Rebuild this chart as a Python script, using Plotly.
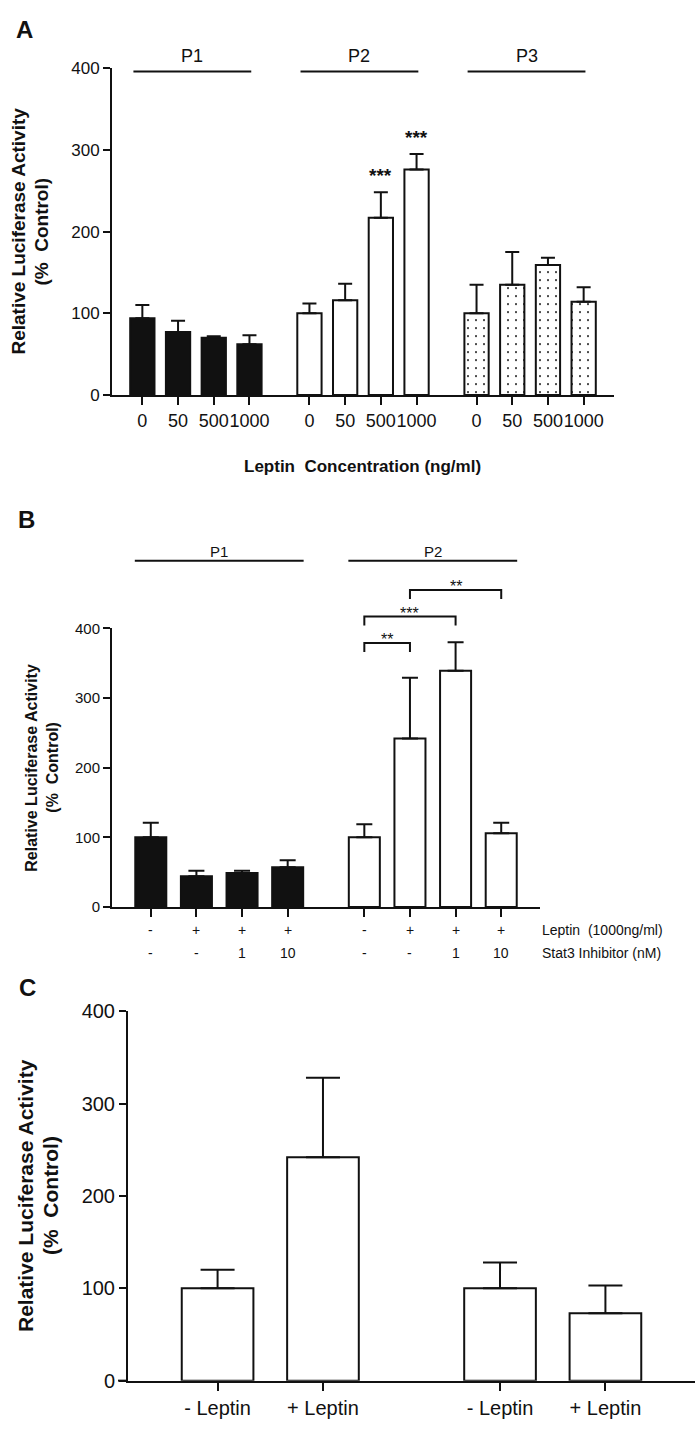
import plotly.graph_objects as go

W, H = 700, 1433
FONT = "Liberation Sans, Arial, sans-serif"
BLACK = "#111111"

# ---------------- data ----------------
# Panel A
A_conc_labels = ["0", "50", "500", "1000"]
A_P1_mean = [94, 77, 70, 62]
A_P1_err = [16, 14, 2, 11]
A_P2_mean = [100, 116, 217, 276]
A_P2_err = [12, 20, 31, 19]
A_P2_sig = ["", "", "***", "***"]
A_P3_mean = [100, 135, 159, 114]
A_P3_err = [35, 40, 9, 18]
A_group_labels = ["P1", "P2", "P3"]

# Panel B
B_P1_mean = [100, 44, 49, 57]
B_P1_err = [21, 8, 3, 10]
B_P2_mean = [100, 242, 339, 106]
B_P2_err = [19, 87, 41, 15]
B_group_labels = ["P1", "P2"]
B_leptin_row = ["-", "+", "+", "+"]
B_inhib_row = ["-", "-", "1", "10"]
B_bracket_from = [0, 0, 1]
B_bracket_to = [1, 2, 3]
B_bracket_level = [379, 417, 455]
B_bracket_text = ["**", "***", "**"]

# Panel C
C_labels = ["- Leptin", "+ Leptin", "- Leptin", "+ Leptin"]
C_mean = [100, 242, 100, 73]
C_err = [20, 86, 28, 30]

Y_TICKS = [0, 100, 200, 300, 400]
Y_MAX = 400

# ---------------- layout helpers ----------------
GAP = 0.68      # extra gap between groups (in bar slots)
PAD = 0.85      # padding at axis ends (in bar slots)
BAR_W = 0.68


def group_positions(n_groups, n_per):
    out = []
    for g in range(n_groups):
        start = g * (n_per + GAP)
        out.append([start + i for i in range(n_per)])
    return out


def px_x(p):
    return p / W


def px_y(p):
    return 1 - p / H


fig = go.Figure()
shapes = []
annotations = []


def txt(text, x, y, size, xref="paper", yref="paper", bold=False, angle=0,
        xanchor="center", yanchor="middle", xshift=0, yshift=0):
    return dict(x=x, y=y, xref=xref, yref=yref,
                text=("<b>%s</b>" % text) if bold else text,
                textangle=angle, showarrow=False, xanchor=xanchor,
                yanchor=yanchor, xshift=xshift, yshift=yshift,
                font=dict(size=size, color=BLACK, family=FONT))


def bar_trace(x, y, err, xa, ya, fill, cap, pattern=None):
    marker = dict(color=fill, line=dict(color=BLACK, width=2))
    if pattern:
        marker["pattern"] = pattern
    return go.Bar(
        x=x, y=y, xaxis=xa, yaxis=ya, width=BAR_W,
        marker=marker,
        error_y=dict(type="data", array=err, arrayminus=[0] * len(err),
                     symmetric=False, color=BLACK, thickness=2, width=cap),
        showlegend=False, hoverinfo="skip",
    )


def axis_pair(xname, yname, xdom_px, ydom_px, xr, ytickfont, xtickfont,
              tickvals, ticktext, showxlabels=True):
    xd = [px_x(xdom_px[0]), px_x(xdom_px[1])]
    yd = [px_y(ydom_px[0]), px_y(ydom_px[1])]
    xa = dict(domain=xd, range=xr, anchor=yname.replace("axis", ""),
              showline=True, linecolor=BLACK, linewidth=2, ticks="outside",
              ticklen=8, tickwidth=2, tickcolor=BLACK, tickvals=tickvals,
              ticktext=ticktext, showticklabels=showxlabels, tickangle=0,
              tickfont=dict(size=xtickfont, color=BLACK, family=FONT),
              showgrid=False, zeroline=False, fixedrange=True)
    ya = dict(domain=yd, range=[0, Y_MAX], anchor=xname.replace("axis", ""),
              showline=True, linecolor=BLACK, linewidth=2, ticks="outside",
              ticklen=7, tickwidth=2, tickcolor=BLACK, tickvals=Y_TICKS,
              tickfont=dict(size=ytickfont, color=BLACK, family=FONT),
              showgrid=False, zeroline=False, fixedrange=True)
    return xa, ya, yd


def yfrac(v):
    return v / Y_MAX


def ypaper(yd, v):
    return yd[0] + yfrac(v) * (yd[1] - yd[0])


# ======================= Panel A =======================
posA = group_positions(3, 4)
flatA = [p for g in posA for p in g]
xrA = [flatA[0] - PAD, flatA[-1] + PAD]
xaA, yaA, ydA = axis_pair("xaxis", "yaxis", (112, 614), (390, 58), xrA, 17, 18,
                          flatA, A_conc_labels * 3)
fig.add_trace(bar_trace(posA[0], A_P1_mean, A_P1_err, "x", "y", BLACK, 7))
fig.add_trace(bar_trace(posA[1], A_P2_mean, A_P2_err, "x", "y", "white", 7))
fig.add_trace(bar_trace(posA[2], A_P3_mean, A_P3_err, "x", "y", "white", 7,
                        pattern=dict(shape=".", fgcolor=BLACK, bgcolor="white",
                                     size=8, solidity=0.05, fillmode="replace")))

for g, lab in enumerate(A_group_labels):
    c = (posA[g][0] + posA[g][-1]) / 2 - 0.1
    shapes.append(dict(type="line", xref="x", yref="paper",
                       x0=c - 1.65, x1=c + 1.65,
                       y0=ypaper(ydA, 396), y1=ypaper(ydA, 396),
                       line=dict(color=BLACK, width=2)))
    annotations.append(txt(lab, c, ypaper(ydA, 415), 18, xref="x"))

for i, s in enumerate(A_P2_sig):
    if s:
        annotations.append(txt(s, posA[1][i], A_P2_mean[i] + A_P2_err[i], 19,
                               xref="x", yref="y", bold=True,
                               yanchor="bottom", yshift=4))

# x-axis overshoot to the left of y axis
shapes.append(dict(type="line", xref="x domain", yref="y domain",
                   x0=-8 / 502, x1=0, y0=0, y1=0,
                   line=dict(color=BLACK, width=2)))

annotations += [
    txt("Leptin  Concentration (ng/ml)", px_x(362), px_y(463), 17, bold=True),
    txt("Relative Luciferase Activity", px_x(19), 0.5, 19, yref="y domain",
        bold=True, angle=-90),
    txt("(%  Control)", px_x(42), 0.5, 19, yref="y domain", bold=True,
        angle=-90),
    txt("A", px_x(24), px_y(19), 24, bold=True),
]

# ======================= Panel B =======================
posB = group_positions(2, 4)
flatB = [p for g in posB for p in g]
xrB = [flatB[0] - PAD, flatB[-1] + PAD]
xaB, yaB, ydB = axis_pair("xaxis2", "yaxis2", (112, 540), (910, 627), xrB, 15,
                          13, flatB, [""] * 8, showxlabels=False)
fig.add_trace(bar_trace(posB[0], B_P1_mean, B_P1_err, "x2", "y2", BLACK, 8))
fig.add_trace(bar_trace(posB[1], B_P2_mean, B_P2_err, "x2", "y2", "white", 8))

for g, lab in enumerate(B_group_labels):
    c = (posB[g][0] + posB[g][-1]) / 2
    shapes.append(dict(type="line", xref="x2", yref="paper",
                       x0=c - 1.85, x1=c + 1.85,
                       y0=ypaper(ydB, 497), y1=ypaper(ydB, 497),
                       line=dict(color=BLACK, width=2)))
    annotations.append(txt(lab, c, ypaper(ydB, 510), 15, xref="x2"))

for a, b, lvl, t in zip(B_bracket_from, B_bracket_to, B_bracket_level,
                        B_bracket_text):
    xa_, xb_ = posB[1][a], posB[1][b]
    lo, hi = ypaper(ydB, lvl - 13), ypaper(ydB, lvl)
    shapes.append(dict(type="path", xref="x2", yref="paper",
                       path=f"M {xa_},{lo} L {xa_},{hi} L {xb_},{hi} L {xb_},{lo}",
                       line=dict(color=BLACK, width=2)))
    annotations.append(txt(t, (xa_ + xb_) / 2, hi, 16, xref="x2",
                           yanchor="bottom", yshift=-7))

for g in range(2):
    for i in range(4):
        annotations.append(txt(B_leptin_row[i], posB[g][i], 0, 14, xref="x2",
                               yref="y2", yshift=-23))
        annotations.append(txt(B_inhib_row[i], posB[g][i], 0, 14, xref="x2",
                               yref="y2", yshift=-46))

annotations += [
    txt("Leptin  (1000ng/ml)", 1.0, 0, 14, xref="x2 domain", yref="y2",
        xanchor="left", yshift=-23),
    txt("Stat3 Inhibitor (nM)", 1.0, 0, 14, xref="x2 domain", yref="y2",
        xanchor="left", yshift=-46),
    txt("Relative Luciferase Activity", px_x(32), 0.5, 16, yref="y2 domain",
        bold=True, angle=-90),
    txt("(%  Control)", px_x(53), 0.5, 16, yref="y2 domain", bold=True,
        angle=-90),
    txt("B", px_x(26), px_y(516), 24, bold=True),
]
shapes.append(dict(type="line", xref="x2 domain", yref="y2 domain",
                   x0=-6 / 428, x1=0, y0=0, y1=0,
                   line=dict(color=BLACK, width=2)))

# ======================= Panel C =======================
posC = group_positions(2, 2)
flatC = [p for g in posC for p in g]
xrC = [flatC[0] - PAD, flatC[-1] + PAD]
xaC, yaC, ydC = axis_pair("xaxis3", "yaxis3", (128, 695), (1391, 1016), xrC,
                          20, 20, flatC, C_labels)
fig.add_trace(bar_trace(flatC, C_mean, C_err, "x3", "y3", "white", 17))

annotations += [
    txt("Relative Luciferase Activity", px_x(25), 0.5, 21, yref="y3 domain",
        bold=True, angle=-90),
    txt("(%  Control)", px_x(50), 0.5, 21, yref="y3 domain", bold=True,
        angle=-90),
    txt("C", px_x(27), px_y(992), 24, bold=True),
]
shapes.append(dict(type="line", xref="x3 domain", yref="y3 domain",
                   x0=-10 / 567, x1=0, y0=0, y1=0,
                   line=dict(color=BLACK, width=2)))

fig.update_layout(
    width=W, height=H, margin=dict(l=0, r=0, t=0, b=0),
    paper_bgcolor="white", plot_bgcolor="rgba(0,0,0,0)",
    barmode="overlay", showlegend=False,
    font=dict(family=FONT, color=BLACK),
    xaxis=xaA, yaxis=yaA, xaxis2=xaB, yaxis2=yaB, xaxis3=xaC, yaxis3=yaC,
    shapes=shapes, annotations=annotations,
)

fig.write_html("out.html",
               config={"displayModeBar": False, "staticPlot": True},
               post_script="document.body.style.margin='0px';")
